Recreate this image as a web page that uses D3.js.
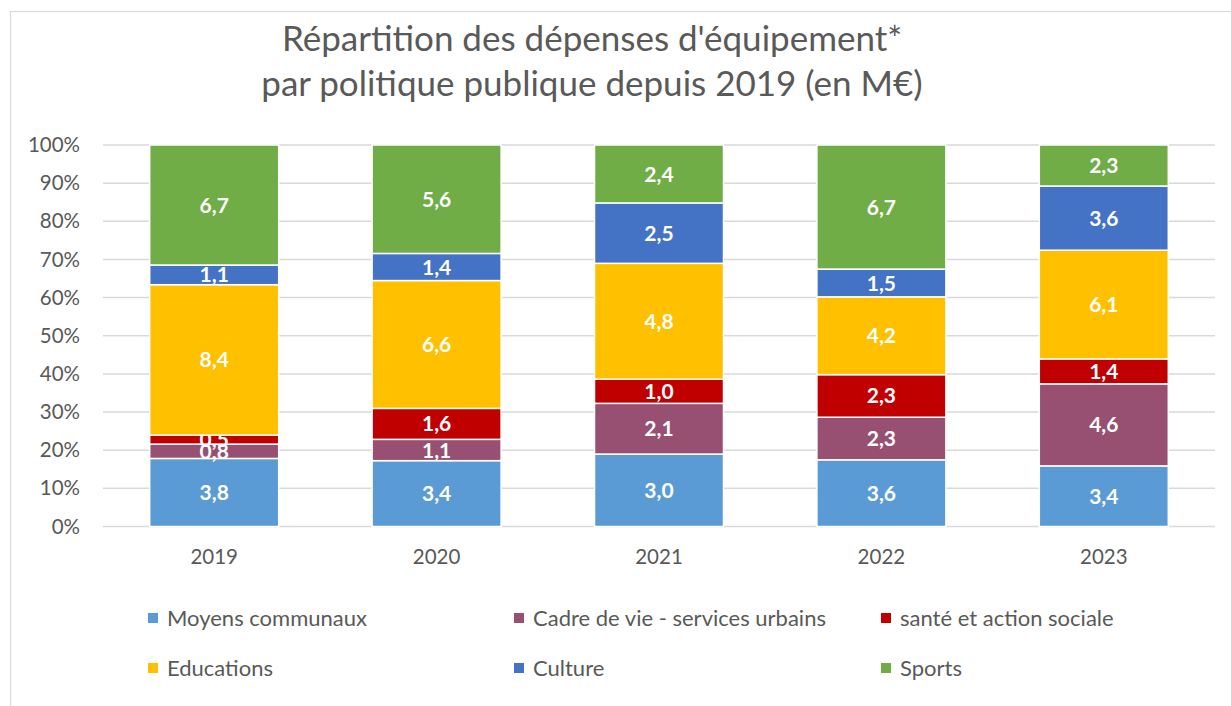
<!DOCTYPE html>
<html>
<head>
<meta charset="utf-8">
<script src="https://cdn.jsdelivr.net/npm/d3@7"></script>
<style>
  body { margin: 0; background: #fff; }
  svg { font-family: Lato, "Open Sans", sans-serif; }
</style>
</head>
<body>
<svg id="chart"></svg>
<script>
const width = 1231;
const height = 706;

const years = ["2019", "2020", "2021", "2022", "2023"];
const series = ["Moyens communaux", "Cadre de vie - services urbains", "santé et action sociale", "Educations", "Culture", "Sports"];
const colors = ["#5B9BD5", "#974F72", "#C00000", "#FFC000", "#4472C4", "#70AD47"];

// valeurs en M€, une liste par politique publique
const moyens = [3.8, 3.4, 3.0, 3.6, 3.4];
const cadre = [0.8, 1.1, 2.1, 2.3, 4.6];
const sante = [0.5, 1.6, 1.0, 2.3, 1.4];
const educ = [8.4, 6.6, 4.8, 4.2, 6.1];
const culture = [1.1, 1.4, 2.5, 1.5, 3.6];
const sports = [6.7, 5.6, 2.4, 6.7, 2.3];
const yTicks = [0, 0.1, 0.2, 0.3, 0.4, 0.5, 0.6, 0.7, 0.8, 0.9, 1];

const allValues = [moyens, cadre, sante, educ, culture, sports];

const svg = d3.select("#chart")
    .attr("width", width)
    .attr("height", height);

// cadre du graphique
svg.append("rect")
    .attr("x", 10.5).attr("y", 11.5)
    .attr("width", 1240).attr("height", 720)
    .attr("fill", "none")
    .attr("stroke", "#d9d9d9")
    .attr("stroke-width", 1.2);

// titre
const title = svg.append("text")
    .attr("text-anchor", "middle")
    .attr("fill", "#595959")
    .style("font-size", "35px");
title.append("tspan").attr("x", 592).attr("y", 51).text("Répartition des dépenses d'équipement*");
title.append("tspan").attr("x", 592).attr("y", 96).text("par politique publique depuis 2019 (en M€)");

const x = d3.scaleBand()
    .domain(years)
    .range([103, 1215])
    .paddingInner(0.42)
    .paddingOuter(0.21);

const y = d3.scaleLinear()
    .domain([0, 1])
    .range([526.5, 145]);

// grille
svg.append("g")
    .selectAll("line")
    .data(yTicks)
    .join("line")
    .attr("x1", 103).attr("x2", 1215)
    .attr("y1", d => y(d)).attr("y2", d => y(d))
    .attr("stroke", "#d9d9d9")
    .attr("stroke-width", 1.5);

// axe Y
const yAxis = svg.append("g")
    .attr("transform", "translate(80,0)")
    .call(d3.axisLeft(y).tickValues(yTicks).tickFormat(d3.format(".0%")).tickSize(0).tickPadding(0));
yAxis.select(".domain").remove();
yAxis.selectAll("text")
    .attr("fill", "#595959")
    .style("font-size", "20.5px")
    .style("font-family", "Lato, sans-serif");

// axe X
const xAxis = svg.append("g")
    .attr("transform", "translate(0,549)")
    .call(d3.axisBottom(x).tickSize(0).tickPadding(0));
xAxis.select(".domain").remove();
xAxis.selectAll("text")
    .attr("fill", "#595959")
    .attr("dy", "0.71em")
    .style("font-size", "20.5px")
    .style("font-family", "Lato, sans-serif");

// empilement en pourcentage
const table = years.map((yr, i) => {
    const row = { year: yr };
    series.forEach((s, j) => { row[s] = allValues[j][i]; });
    return row;
});

const stacked = d3.stack()
    .keys(series)
    .offset(d3.stackOffsetExpand)(table);

const groups = svg.append("g")
    .selectAll("g")
    .data(stacked)
    .join("g")
    .attr("fill", (d, i) => colors[i]);

groups.selectAll("rect")
    .data(d => d)
    .join("rect")
    .attr("x", d => x(d.data.year))
    .attr("width", x.bandwidth())
    .attr("y", d => y(d[1]))
    .attr("height", d => y(d[0]) - y(d[1]))
    .attr("stroke", "#fff")
    .attr("stroke-width", 1.5);

groups.each(function(s) {
    d3.select(this).selectAll("text")
        .data(s)
        .join("text")
        .attr("x", d => x(d.data.year) + x.bandwidth() / 2)
        .attr("y", d => (y(d[0]) + y(d[1])) / 2)
        .attr("dy", "0.36em")
        .attr("text-anchor", "middle")
        .attr("fill", "#fff")
        .style("font-size", "21px")
        .style("font-weight", "bold")
        .text(d => d3.format(".1f")(d.data[s.key]).replace(".", ","));
});

// légende
const legendX = [148, 514, 881];
const legendY = [618, 668];
const legend = svg.append("g")
    .selectAll("g")
    .data(series)
    .join("g")
    .attr("transform", (d, i) => `translate(${legendX[i % 3]},${legendY[Math.floor(i / 3)]})`);

legend.append("rect")
    .attr("x", 0).attr("y", -5)
    .attr("width", 10).attr("height", 10)
    .attr("fill", (d, i) => colors[i]);

legend.append("text")
    .attr("x", 19)
    .attr("dy", "0.36em")
    .attr("fill", "#595959")
    .style("font-size", "22px")
    .text(d => d);
</script>
</body>
</html>
